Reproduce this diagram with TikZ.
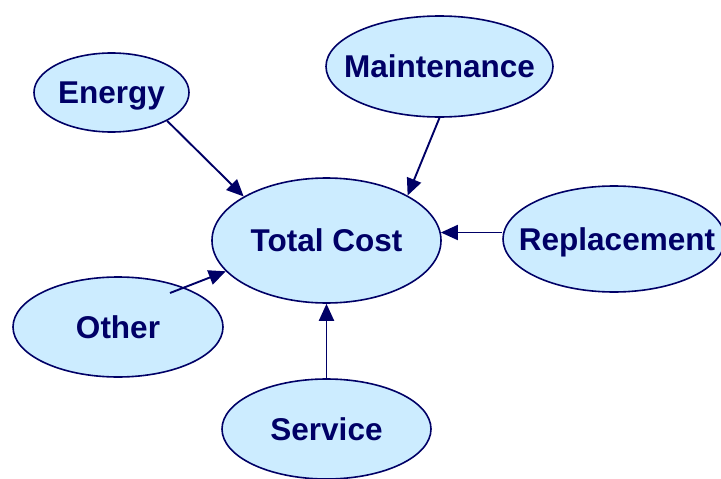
\documentclass[tikz,border=0pt]{standalone}
\usepackage{fontspec}
\setmainfont{Liberation Sans}
\usetikzlibrary{shapes.geometric,arrows.meta,calc}
\definecolor{bubblefill}{HTML}{CCECFF}
\definecolor{navy}{RGB}{0,0,102}
% label set in a zero-width box so the ellipse keeps its given size
\newcommand{\bubbletext}[1]{\makebox[0pt]{#1}}
\begin{document}
\begin{tikzpicture}[x=1pt,y=-1pt,
  bubble/.style={ellipse, draw=navy, fill=bubblefill, line width=1.6pt,
    inner sep=0pt, text=navy, text height=22.5pt, text depth=0pt,
    font=\fontsize{31.5}{36}\selectfont\bfseries},
  link/.style={draw=navy, line width=1.9pt,
    -{Triangle[length=17pt,width=15pt]}}]
\useasboundingbox (0,0) rectangle (721,479);

% cost components around the total
\node[bubble, minimum width=155pt, minimum height=79pt]  (energy) at (111.5,92.5) {\bubbletext{Energy}};
\node[bubble, minimum width=227pt, minimum height=101pt] (maint)  at (439.5,66.5) {\bubbletext{Maintenance}};
\node[bubble, minimum width=229pt, minimum height=125pt] (total)  at (326.5,240.5) {\bubbletext{Total Cost}};
\node[bubble, minimum width=222pt, minimum height=106pt] (repl)   at (614,239) {\bubbletext{\hspace{6pt}Replacement}};
\node[bubble, minimum width=210pt, minimum height=100pt] (other)  at (118,327) {\bubbletext{Other}};
\node[bubble, minimum width=209pt, minimum height=100pt] (service) at (326.5,429) {\bubbletext{Service}};

% contributions flowing into the total
\draw[link] (energy.-27) -- (total.152);
\draw[link] (maint.south) -- (total.29);
\draw[link] (total.4 -| repl.west) -- (total.4);
\draw[link] ($(other.center)+(52,-34)$) -- (total.197);
\draw[link] (service.north) -- (total.south);
\end{tikzpicture}
\end{document}
